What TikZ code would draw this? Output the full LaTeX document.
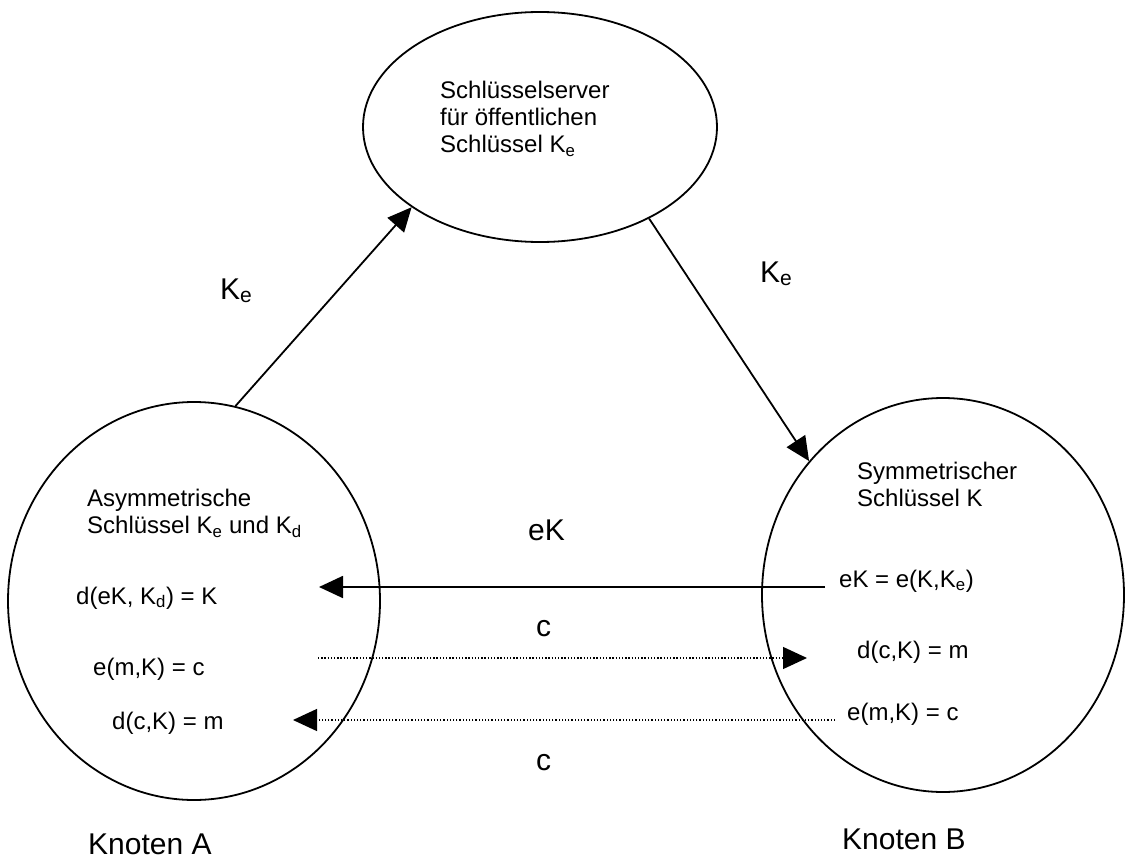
\documentclass[tikz,border=0pt]{standalone}
\usepackage{fontspec}
\setmainfont{Liberation Sans}
\usetikzlibrary{arrows.meta,shapes.geometric}
\begin{document}
\begin{tikzpicture}[x=1pt,y=-1pt,
  oval/.style={draw, ellipse, line width=1.8pt, inner sep=0pt},
  link/.style={line width=1.8pt, -{Triangle[length=24pt,width=22pt]}},
  dotlink/.style={line width=1.3pt, dash pattern=on 1.3pt off 1.9pt, -{Triangle[length=24pt,width=22pt]}},
  txt/.style={font=\fontsize{24}{27}\selectfont, inner sep=0pt, align=left},
  big/.style={font=\fontsize{30}{34}\selectfont, inner sep=0pt}]
\useasboundingbox (0,0) rectangle (1125,862);

% the three parties
\node[oval, minimum width=354pt, minimum height=230pt] (srv) at (540,127) {};
\node[oval, minimum width=372pt, minimum height=398pt] (A) at (194,601) {};
\node[oval, minimum width=362pt, minimum height=394pt] (B) at (943,595) {};

% texts inside the ovals
\node[txt, anchor=north west] (srvtxt) at (440,81) {Schlüsselserver\\für öffentlichen\\Schlüssel K\textsubscript{e}};
\node[txt, anchor=north west] (Atxt) at (87,489) {Asymmetrische\\Schlüssel K\textsubscript{e} und K\textsubscript{d}};
\node[txt, anchor=north west] (Btxt) at (857,462) {Symmetrischer\\Schlüssel K};

\node[txt, anchor=base west] (Aeq1) at (76,604) {d(eK, K\textsubscript{d}) = K};
\node[txt, anchor=base west] (Aeq2) at (93,675) {e(m,K) = c};
\node[txt, anchor=base west] (Aeq3) at (112,729) {d(c,K) = m};
\node[txt, anchor=base west] (Beq1) at (839,587) {eK = e(K,K\textsubscript{e})};
\node[txt, anchor=base west] (Beq2) at (857,658) {d(c,K) = m};
\node[txt, anchor=base west] (Beq3) at (847,720) {e(m,K) = c};

% message labels
\node[big, anchor=base west] (lblKeA) at (220,299) {K\textsubscript{e}};
\node[big, anchor=base west] (lblKeB) at (760,282) {K\textsubscript{e}};
\node[big, anchor=base west] (lbleK) at (528,540) {eK};
\node[big, anchor=base west] (lblcA) at (536,636) {c};
\node[big, anchor=base west] (lblcB) at (536,770) {c};
\node[big, anchor=base west] (nameA) at (88,854) {Knoten A};
\node[big, anchor=base west] (nameB) at (842,849) {Knoten B};

% key distribution
\draw[link] (A.78.7) -- (srv.212.6);
\draw[link] (srv.320.8) -- (B.135.6);

% message exchange
\coordinate (eKfrom) at (825,587);
\coordinate (eKto) at (319,587);
\coordinate (cABfrom) at (318,658);
\coordinate (cABto) at (807,658);
\coordinate (cBAfrom) at (835,720);
\coordinate (cBAto) at (293,720);
\draw[link] (eKfrom) -- (eKto);
\draw[dotlink] (cABfrom) -- (cABto);
\draw[dotlink] (cBAfrom) -- (cBAto);
\end{tikzpicture}
\end{document}
